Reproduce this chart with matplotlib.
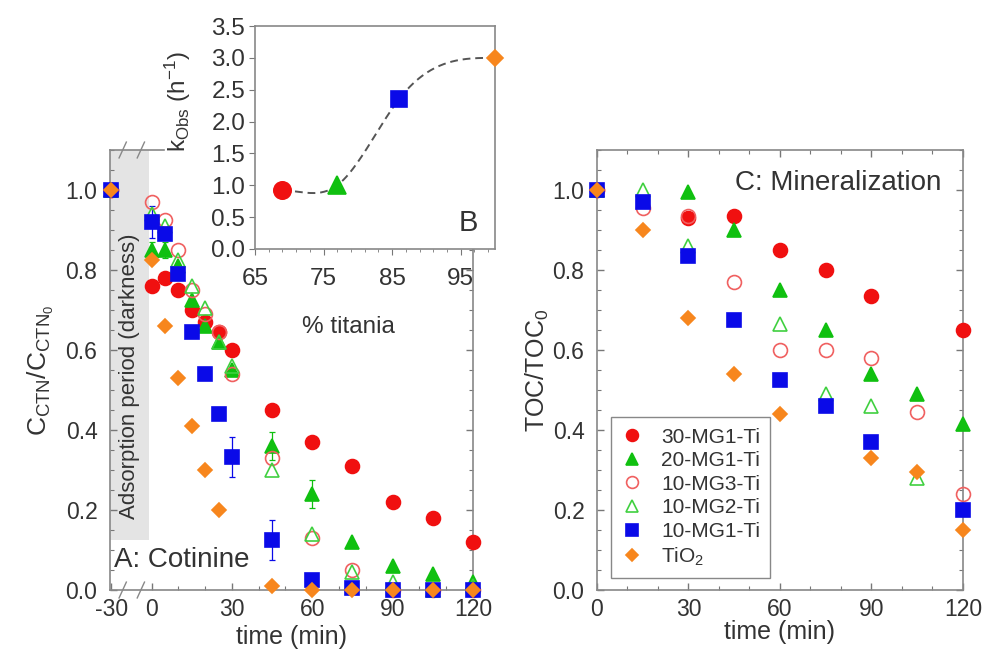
import numpy as np
import matplotlib
matplotlib.use('Agg')
import matplotlib.pyplot as plt
from matplotlib.ticker import MultipleLocator, FormatStrFormatter

plt.rcParams['font.family'] = ['Liberation Sans', 'DejaVu Sans']
plt.rcParams['mathtext.fontset'] = 'custom'
plt.rcParams['mathtext.rm'] = 'Liberation Sans'
plt.rcParams['mathtext.it'] = 'Liberation Sans'
plt.rcParams['text.color'] = '#333333'
plt.rcParams['axes.labelcolor'] = '#333333'
plt.rcParams['xtick.color'] = '#777777'
plt.rcParams['ytick.color'] = '#777777'
plt.rcParams['xtick.labelcolor'] = '#333333'
plt.rcParams['ytick.labelcolor'] = '#333333'

# panel A: cotinine removal (first point is the -30 min start of darkness)
tA = [-30, 0, 5, 10, 15, 20, 25, 30, 45, 60, 75, 90, 105, 120]
a_30mg1 = [1.0, 0.76, 0.78, 0.75, 0.70, 0.67, 0.645, 0.60, 0.45, 0.37, 0.31, 0.22, 0.18, 0.12]
a_20mg1 = [1.0, 0.85, 0.85, 0.81, 0.725, 0.66, 0.62, 0.55, 0.36, 0.24, 0.12, 0.06, 0.04, 0.02]
a_10mg3 = [1.0, 0.97, 0.925, 0.85, 0.75, 0.69, 0.645, 0.54, 0.33, 0.13, 0.05, 0.0, 0.0, 0.0]
a_10mg2 = [1.0, 0.94, 0.91, 0.825, 0.76, 0.705, 0.62, 0.56, 0.30, 0.14, 0.045, 0.02, 0.0, 0.01]
a_10mg1 = [1.0, 0.92, 0.89, 0.79, 0.645, 0.54, 0.44, 0.333, 0.125, 0.025, 0.005, 0.0, 0.0, 0.0]
a_tio2 = [1.0, 0.825, 0.66, 0.53, 0.41, 0.30, 0.20, np.nan, 0.01, 0.0, 0.0, 0.0, 0.0, 0.0]
err_20mg1 = [0, 0.02, 0.02, 0, 0, 0, 0, 0, 0.035, 0.035, 0, 0, 0, 0]
err_10mg1 = [0, 0.04, 0, 0, 0, 0, 0, 0.05, 0.05, 0, 0, 0, 0, 0]

# panel C: TOC
tC = [0, 15, 30, 45, 60, 75, 90, 105, 120]
c_30mg1 = [1.0, np.nan, 0.93, 0.935, 0.85, 0.80, 0.735, np.nan, 0.65]
c_20mg1 = [1.0, np.nan, 0.995, 0.90, 0.75, 0.65, 0.54, 0.49, 0.415]
c_10mg3 = [1.0, 0.955, 0.935, 0.77, 0.60, 0.60, 0.58, 0.445, 0.24]
c_10mg2 = [1.0, 1.0, 0.86, np.nan, 0.665, 0.49, 0.46, 0.28, np.nan]
c_10mg1 = [1.0, 0.97, 0.835, 0.675, 0.525, 0.46, 0.37, np.nan, 0.20]
c_tio2 = [1.0, 0.90, 0.68, 0.54, 0.44, np.nan, 0.33, 0.295, 0.15]

# inset B
titania = [69, 77, 86, 100]
kobs = [0.92, 1.0, 2.35, 3.0]

labels = ['30-MG1-Ti', '20-MG1-Ti', '10-MG3-Ti', '10-MG2-Ti', '10-MG1-Ti', 'TiO$_2$']
colors = ['#f01010', '#10c010', '#f06060', '#40d040', '#0a0ae8', '#f7861d']
marks = ['o', '^', 'o', '^', 's', 'D']
sizes = [10, 10, 10, 10, 9.5, 6.8]
filled = [True, True, False, False, True, True]

spine_c = '#888888'


def style_ax(ax):
    for s in ax.spines.values():
        s.set_color(spine_c)
        s.set_linewidth(1.2)
    ax.tick_params(which='both', direction='in', top=True, right=True, labelsize=16.5)
    ax.tick_params(which='major', length=5, width=1)
    ax.tick_params(which='minor', length=3, width=0.8)
    ax.tick_params(axis='y', pad=9)
    ax.tick_params(axis='x', pad=6)


def mk(i, scale=1.0):
    return dict(marker=marks[i], ms=sizes[i] * scale, color=colors[i], linestyle='none',
                mfc=colors[i] if filled[i] else 'none', mec=colors[i],
                mew=1.2, clip_on=False, zorder=3 + i * 0.1)


def clamped_spline(x, y, xs):
    x = np.asarray(x, float)
    y = np.asarray(y, float)
    n = len(x)
    h = np.diff(x)
    d = np.diff(y) / h
    A = np.zeros((n, n))
    r = np.zeros(n)
    A[0, 0], A[0, 1], r[0] = 2 * h[0], h[0], 6 * d[0]
    A[-1, -2], A[-1, -1], r[-1] = h[-1], 2 * h[-1], -6 * d[-1]
    for i in range(1, n - 1):
        A[i, i - 1], A[i, i], A[i, i + 1] = h[i - 1], 2 * (h[i - 1] + h[i]), h[i]
        r[i] = 6 * (d[i] - d[i - 1])
    M = np.linalg.solve(A, r)
    k = np.clip(np.searchsorted(x, xs) - 1, 0, n - 2)
    t0 = x[k + 1] - xs
    t1 = xs - x[k]
    return ((M[k] * t0**3 + M[k + 1] * t1**3) / (6 * h[k])
            + (y[k] / h[k] - M[k] * h[k] / 6) * t0
            + (y[k + 1] / h[k] - M[k + 1] * h[k] / 6) * t1)


fig = plt.figure(figsize=(9.83, 6.67), dpi=100)

# ---------------- panel A
axA = fig.add_axes([0.1119, 0.1154, 0.3693, 0.6597])
style_ax(axA)
tA_arr = np.array(tA, float)
xA = np.where(tA_arr < 0, tA_arr / 2, tA_arr)   # compressed darkness period
seriesA = [a_30mg1, a_20mg1, a_10mg3, a_10mg2, a_10mg1, a_tio2]
errA = {1: err_20mg1, 4: err_10mg1}
for i, ys in enumerate(seriesA):
    if i in errA:
        e = np.array(errA[i], float)
        e[e == 0] = np.nan
        axA.errorbar(xA, ys, yerr=e, fmt='none', ecolor=colors[i], elinewidth=0.9,
                     capsize=2, capthick=0.9, clip_on=False, zorder=2.5)
    axA.plot(xA, ys, **mk(i))
axA.set_xlim(-15.5, 120)
axA.set_ylim(0, 1.1)
axA.set_xticks([-15, 0, 30, 60, 90, 120])
axA.set_xticklabels(['-30', '0', '30', '60', '90', '120'])
axA.set_xticks(np.arange(0, 121, 10), minor=True)
axA.set_yticks(np.arange(0, 1.01, 0.2))
axA.yaxis.set_minor_locator(MultipleLocator(0.05))
axA.yaxis.set_major_formatter(FormatStrFormatter('%.1f'))
axA.tick_params(top=False, which='both')
axA.spines['top'].set_visible(False)
axA.plot([0, 0.15], [1, 1], transform=axA.transAxes, color=spine_c, lw=1.2, clip_on=False)
for yb in (0, 1):
    for xb in (0.035, 0.085):
        axA.plot([xb - 0.01, xb + 0.01], [yb - 0.018, yb + 0.018], transform=axA.transAxes,
                 color=spine_c, lw=1.0, clip_on=False)
axA.axvspan(-15.5, -0.8, ymin=0.125 / 1.1, ymax=1, color='#e4e4e4', zorder=0, lw=0)
axA.text(-8.2, 0.534, 'Adsorption period (darkness)', rotation=90, ha='center', va='center',
         fontsize=16)
axA.text(0.01, 0.068, 'A: Cotinine', transform=axA.transAxes, ha='left', va='center',
         fontsize=20)
axA.set_xlabel('time (min)', fontsize=18)
axA.xaxis.set_label_coords(0.5, -0.08)
axA.set_ylabel(r'$\mathregular{C_{CTN}/C_{CTN_0}}$', fontsize=19)
axA.yaxis.set_label_coords(-0.15, 0.5)

# ---------------- panel C
axC = fig.add_axes([0.6073, 0.1154, 0.3723, 0.6597])
style_ax(axC)
seriesC = [c_30mg1, c_20mg1, c_10mg3, c_10mg2, c_10mg1, c_tio2]
for i, ys in enumerate(seriesC):
    axC.plot(tC, ys, label=labels[i], **mk(i))
axC.set_xlim(0, 120)
axC.set_ylim(0, 1.1)
axC.set_xticks(np.arange(0, 121, 30))
axC.set_xticks(np.arange(0, 121, 10), minor=True)
axC.set_yticks(np.arange(0, 1.01, 0.2))
axC.yaxis.set_minor_locator(MultipleLocator(0.05))
axC.yaxis.set_major_formatter(FormatStrFormatter('%.1f'))
axC.text(0.377, 0.925, 'C: Mineralization', transform=axC.transAxes, ha='left', va='center',
         fontsize=20)
axC.set_xlabel('time (min)', fontsize=18)
axC.xaxis.set_label_coords(0.5, -0.068)
axC.set_ylabel(r'$\mathregular{TOC/TOC_0}$', fontsize=18)
axC.yaxis.set_label_coords(-0.125, 0.5)
leg = axC.legend(loc='lower left', bbox_to_anchor=(0.038, 0.027), fontsize=15,
                 frameon=True, fancybox=False, framealpha=1, edgecolor=spine_c,
                 labelspacing=0.22, handlelength=1.0, handletextpad=0.9, borderpad=0.5,
                 borderaxespad=0, markerscale=0.85)
leg.get_frame().set_linewidth(1.0)

# ---------------- inset B
axB = fig.add_axes([0.2594, 0.6267, 0.2441, 0.3343])
for s in axB.spines.values():
    s.set_color(spine_c)
    s.set_linewidth(1.2)
axB.set_facecolor('white')
xs = np.linspace(titania[0], titania[-1], 200)
axB.plot(xs, clamped_spline(titania, kobs, xs), color='#555555', lw=1.4, dashes=(4, 2.5),
         zorder=2)
for j, i in enumerate([0, 1, 4, 5]):
    axB.plot(titania[j], kobs[j], **mk(i, 1.25))
axB.set_xlim(65, 100)
axB.set_ylim(0, 3.5)
axB.set_xticks([65, 75, 85, 95])
axB.set_xticks(np.arange(65, 101, 2), minor=True)
axB.set_yticks(np.arange(0, 3.51, 0.5))
axB.yaxis.set_major_formatter(FormatStrFormatter('%.1f'))
axB.tick_params(which='both', direction='out', labelsize=17.5)
axB.tick_params(which='major', length=4)
axB.tick_params(which='minor', length=2.5)
axB.tick_params(axis='x', pad=10)
axB.tick_params(axis='y', pad=3)
axB.text(0.8875, 0.117, 'B', transform=axB.transAxes, ha='center', va='center', fontsize=21)
axB.set_xlabel('% titania', fontsize=17.5)
axB.xaxis.set_label_coords(0.39, -0.3)
axB.set_ylabel(r'$\mathregular{k_{Obs}\ (h^{-1})}$', fontsize=17.5)
axB.yaxis.set_label_coords(-0.26, 0.66)

fig.savefig('out.png', dpi=100)
